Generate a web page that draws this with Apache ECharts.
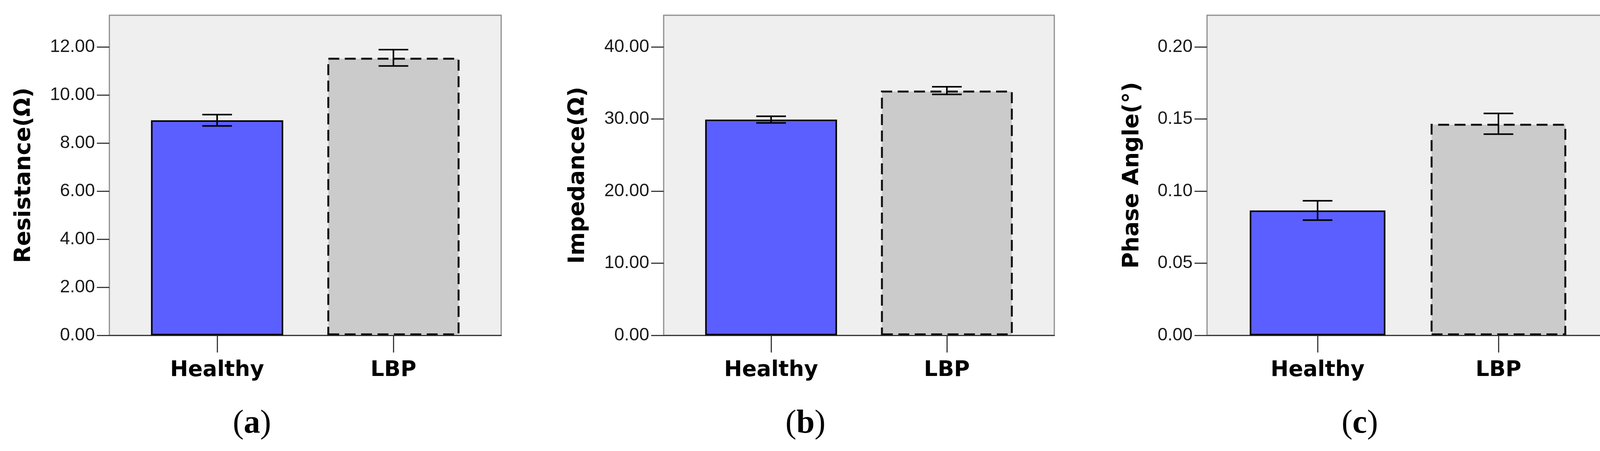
<!DOCTYPE html>
<html>
<head>
<meta charset="utf-8">
<script src="https://cdn.jsdelivr.net/npm/echarts@6/dist/echarts.min.js"></script>
<style>
html,body{margin:0;padding:0;background:#fff;}
#chart{width:4152px;height:1154px;}
</style>
</head>
<body>
<div id="chart"></div>
<script>
// ---- data ----
const categories = ['Healthy', 'LBP'];
const resistanceMean = [8.95, 11.55];
const resistanceErr = [0.235, 0.34];
const impedanceMean = [29.92, 33.95];
const impedanceErr = [0.46, 0.53];
const phaseMean = [0.0866, 0.1467];
const phaseErr = [0.0067, 0.0072];
const resistanceTicks = [0, 2, 4, 6, 8, 10, 12];
const impedanceTicks = [0, 10, 20, 30, 40];
const phaseTicks = [0, 0.05, 0.10, 0.15, 0.20];
const axisTitles = ['Resistance(\u03A9)', 'Impedance(\u03A9)', 'Phase Angle(\u00B0)'];
const panelTags = ['a', 'b', 'c'];

// ---- layout ----
const panels = [
  { left: 280, width: 1003, mean: resistanceMean, err: resistanceErr, ticks: resistanceTicks, max: 13.32, nameGap: 189, tagX: 645 },
  { left: 1699, width: 1000, mean: impedanceMean, err: impedanceErr, ticks: impedanceTicks, max: 44.4, nameGap: 190, tagX: 2062 },
  { left: 3090, width: 1029, mean: phaseMean, err: phaseErr, ticks: phaseTicks, max: 0.222, nameGap: 162, tagX: 3481 }
];
const TOP = 39, HEIGHT = 819;

const grid = [], xAxis = [], yAxis = [], series = [], graphic = [];
const fillColors = ['#5c5fff', '#cbcbcb'];

panels.forEach((p, i) => {
  const outer = i * 2, inner = i * 2 + 1;
  grid.push({ left: p.left, top: TOP, width: p.width, height: HEIGHT, show: true,
    backgroundColor: '#efefef', borderColor: '#8e8e8e', borderWidth: 3 });
  grid.push({ left: p.left + 0.05 * p.width, top: TOP, width: 0.9 * p.width, height: HEIGHT });

  // outer x axis: just the bottom line
  xAxis.push({ gridIndex: outer, type: 'value', min: 0, max: 1, z: 1,
    axisLine: { show: true, onZero: false, lineStyle: { color: '#3a3a3a', width: 3 } },
    axisTick: { show: false }, axisLabel: { show: false }, splitLine: { show: false } });
  // inner category axis
  xAxis.push({ gridIndex: inner, type: 'category', data: categories,
    axisLine: { show: false },
    axisTick: { show: true, alignWithLabel: true, length: 44, lineStyle: { color: '#3a3a3a', width: 3 } },
    axisLabel: { margin: 62, fontFamily: 'DejaVu Sans', fontWeight: 'bold', fontSize: 55, color: '#000' },
    splitLine: { show: false } });

  yAxis.push({ gridIndex: outer, type: 'value', min: 0, max: p.max,
    name: axisTitles[i], nameLocation: 'middle', nameGap: p.nameGap,
    nameTextStyle: { fontFamily: 'DejaVu Sans', fontWeight: 'bold', fontSize: 57, color: '#000' },
    axisLine: { show: false },
    axisTick: { show: true, length: 32, customValues: p.ticks, lineStyle: { color: '#3a3a3a', width: 3 } },
    axisLabel: { show: true, margin: 37, customValues: p.ticks, fontFamily: 'Liberation Sans', fontSize: 46, color: '#1a1a1a',
      formatter: v => Number(v).toFixed(2) },
    splitLine: { show: false } });
  yAxis.push({ gridIndex: inner, type: 'value', min: 0, max: p.max, show: false, splitLine: { show: false } });

  series.push({
    type: 'bar', xAxisIndex: inner, yAxisIndex: inner, barWidth: '75%', z: 3,
    data: p.mean.map((v, k) => ({
      value: v,
      itemStyle: k === 0
        ? { color: fillColors[0], borderColor: '#000', borderWidth: 4, borderType: 'solid' }
        : { color: fillColors[1], borderColor: '#111', borderWidth: 5, borderType: [28, 14] }
    }))
  });
  series.push({
    type: 'custom', xAxisIndex: inner, yAxisIndex: inner, z: 5,
    encode: { x: 0, y: [1, 2] },
    data: p.mean.map((v, k) => [k, v - p.err[k], v + p.err[k]]),
    renderItem: function (params, api) {
      const x = api.value(0);
      const lo = api.coord([x, api.value(1)]);
      const hi = api.coord([x, api.value(2)]);
      const hw = 38;
      const st = { stroke: '#000', lineWidth: 4 };
      return { type: 'group', children: [
        { type: 'line', shape: { x1: hi[0], y1: hi[1], x2: lo[0], y2: lo[1] }, style: st },
        { type: 'line', shape: { x1: hi[0] - hw, y1: hi[1], x2: hi[0] + hw, y2: hi[1] }, style: st },
        { type: 'line', shape: { x1: lo[0] - hw, y1: lo[1], x2: lo[0] + hw, y2: lo[1] }, style: st }
      ] };
    }
  });

  graphic.push({ type: 'text', x: p.tagX, y: 1085,
    style: { text: '{r|(}{b|' + panelTags[i] + '}{r|)}', align: 'center', verticalAlign: 'middle',
      textAlign: 'center', textVerticalAlign: 'middle',
      rich: { r: { fontFamily: 'Liberation Serif', fontSize: 84, color: '#000' },
              b: { fontFamily: 'Liberation Serif', fontSize: 84, fontWeight: 'bold', color: '#000' } } } });
});

const chart = echarts.init(document.getElementById('chart'), null, { renderer: 'canvas' });
chart.setOption({ backgroundColor: '#ffffff', animation: false, grid, xAxis, yAxis, series, graphic });
</script>
</body>
</html>
